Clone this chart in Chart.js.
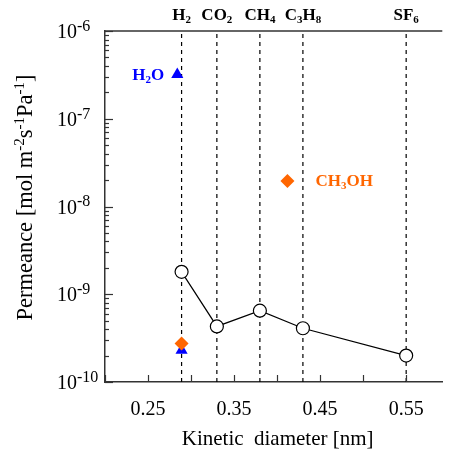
<!DOCTYPE html>
<html><head><meta charset="utf-8">
<script src="https://cdn.jsdelivr.net/npm/chart.js@4.4.0/dist/chart.umd.min.js"></script>
<style>html,body{margin:0;padding:0;background:#fff;} #wrap{width:450px;height:453px;}</style>
</head><body><div id="wrap"><canvas id="c" width="450" height="453"></canvas></div>
<script>
// ---- data ----
const gasLabels = ['H_2', 'CO_2', 'CH_4', 'C_3H_8', 'SF_6'];
const kineticDiameter = [0.289, 0.33, 0.38, 0.43, 0.55];
const permeance = [1.8e-9, 4.3e-10, 6.5e-10, 4.1e-10, 2.0e-10];
const waterX = [0.284, 0.289];
const waterY = [3.2e-7, 2.3e-10];
const methanolX = [0.412, 0.289];
const methanolY = [1.95e-8, 2.75e-10];
const xTickValues = [0.2, 0.25, 0.3, 0.35, 0.4, 0.45, 0.5, 0.55];
const xTickLabels = ['0.25', '0.35', '0.45', '0.55'];
const yTickExponents = [-6, -7, -8, -9, -10];
const xRange = [0.2, 0.592];
const yRange = [1e-10, 1e-6];

const SERIF = '"Liberation Serif","Times New Roman",serif';
const AXIS = '#333';

// rich text: _x subscript, ^{..} superscript
function parseRich(s) {
  const segs = []; let cur = '';
  for (let i = 0; i < s.length; i++) {
    const c = s[i];
    if (c === '_' || c === '^') {
      if (cur) { segs.push({t: cur, k: 'n'}); cur = ''; }
      let t;
      if (s[i + 1] === '{') { const j = s.indexOf('}', i); t = s.slice(i + 2, j); i = j; }
      else { t = s[i + 1]; i++; }
      segs.push({t, k: c === '_' ? 'sub' : 'sup'});
    } else cur += c;
  }
  if (cur) segs.push({t: cur, k: 'n'});
  return segs;
}
function drawRich(ctx, str, x, y, o) {
  const size = o.size, weight = o.bold ? 'bold ' : '';
  const sm = o.small || 0.66;
  const segs = parseRich(str);
  const fontFor = k => weight + (k === 'n' ? size : Math.round(size * sm)) + 'px ' + SERIF;
  let w = 0;
  segs.forEach(sg => { ctx.font = fontFor(sg.k); sg.w = ctx.measureText(sg.t).width; w += sg.w; });
  ctx.save();
  ctx.translate(x, y);
  if (o.rotate) ctx.rotate(o.rotate);
  let sx = o.align === 'right' ? -w : (o.align === 'left' ? 0 : -w / 2);
  ctx.fillStyle = o.color || '#000';
  ctx.textBaseline = 'alphabetic';
  ctx.textAlign = 'left';
  segs.forEach(sg => {
    ctx.font = fontFor(sg.k);
    const dy = sg.k === 'sub' ? size * 0.18 : (sg.k === 'sup' ? -size * 0.36 : 0);
    ctx.fillText(sg.t, sx, dy);
    sx += sg.w;
  });
  ctx.restore();
}

const decor = {
  id: 'decor',
  afterDraw(chart) {
    const ctx = chart.ctx, xs = chart.scales.x, ys = chart.scales.y, a = chart.chartArea;
    ctx.save();
    ctx.strokeStyle = AXIS; ctx.lineWidth = 1.5;
    // top frame line
    ctx.beginPath(); ctx.moveTo(a.left, a.top); ctx.lineTo(a.right, a.top); ctx.stroke();
    ctx.lineWidth = 1.2;
    // x ticks (inward)
    xTickValues.forEach(v => {
      const px = Math.round(xs.getPixelForValue(v)) + 0.5;
      ctx.beginPath(); ctx.moveTo(px, a.bottom); ctx.lineTo(px, a.bottom - 7); ctx.stroke();
    });
    // y ticks (inward), major + minor
    for (let e = -10; e <= -6; e++) {
      const py = Math.round(ys.getPixelForValue(Math.pow(10, e))) + 0.5;
      ctx.beginPath(); ctx.moveTo(a.left, py); ctx.lineTo(a.left + 8, py); ctx.stroke();
      if (e < -6) for (let k = 2; k <= 9; k++) {
        const pm = Math.round(ys.getPixelForValue(k * Math.pow(10, e))) + 0.5;
        ctx.beginPath(); ctx.moveTo(a.left, pm); ctx.lineTo(a.left + 4, pm); ctx.stroke();
      }
    }
    ctx.restore();
    // x tick labels
    xTickLabels.forEach(l => {
      drawRich(ctx, l, xs.getPixelForValue(parseFloat(l)), a.bottom + 33, {size: 20, align: 'center'});
    });
    // y tick labels (left aligned block)
    yTickExponents.forEach(e => {
      drawRich(ctx, '10^{' + e + '}', a.left - 48, ys.getPixelForValue(Math.pow(10, e)) + 7, {size: 20, align: 'left', small: 0.8});
    });
    // axis titles
    drawRich(ctx, 'Kinetic  diameter [nm]', (a.left + a.right) / 2 + 4, a.bottom + 63, {size: 21, align: 'center'});
    drawRich(ctx, 'Permeance [mol m^{-2}s^{-1}Pa^{-1}]', 32, (a.top + a.bottom) / 2 - 9, {size: 22.5, align: 'center', rotate: -Math.PI / 2});
    // gas labels above frame
    gasLabels.forEach((g, i) => {
      drawRich(ctx, g, xs.getPixelForValue(kineticDiameter[i]), a.top - 11, {size: 17, bold: true, align: 'center'});
    });
    // point labels
    drawRich(ctx, 'H_2O', xs.getPixelForValue(waterX[0]) - 13, ys.getPixelForValue(waterY[0]) + 6, {size: 17, bold: true, align: 'right', color: '#0000ff'});
    drawRich(ctx, 'CH_3OH', xs.getPixelForValue(methanolX[0]) + 28, ys.getPixelForValue(methanolY[0]) + 5, {size: 17, bold: true, align: 'left', color: '#ff6600'});
  }
};

const datasets = [
  {
    label: 'permeance',
    data: kineticDiameter.map((x, i) => ({x, y: permeance[i]})),
    showLine: true, borderColor: '#000', borderWidth: 1.2,
    pointRadius: 6.5, pointBackgroundColor: '#fff', pointBorderColor: '#000', pointBorderWidth: 1.2,
    order: 1
  },
  {
    label: 'methanol',
    data: methanolX.map((x, i) => ({x, y: methanolY[i]})),
    pointStyle: 'rectRot', pointRadius: 7, pointBackgroundColor: '#ff6600', pointBorderColor: '#ff6600', pointBorderWidth: 0,
    showLine: false, order: 2
  },
  {
    label: 'water',
    data: waterX.map((x, i) => ({x, y: waterY[i]})),
    pointStyle: 'triangle', pointRadius: 7, pointBackgroundColor: '#0000ff', pointBorderColor: '#0000ff', pointBorderWidth: 0,
    showLine: false, order: 3
  }
];
kineticDiameter.forEach(d => {
  datasets.push({
    label: 'guide',
    data: [{x: d, y: yRange[0]}, {x: d, y: yRange[1]}],
    showLine: true, borderColor: '#000', borderWidth: 1.2, borderDash: [4, 4],
    pointRadius: 0, order: 10
  });
});

new Chart(document.getElementById('c'), {
  type: 'scatter',
  data: {datasets},
  options: {
    responsive: false, animation: false,
    layout: {padding: {left: 105, top: 31, right: 0, bottom: 71}},
    plugins: {legend: {display: false}, tooltip: {enabled: false}},
    scales: {
      x: {type: 'linear', min: xRange[0], max: xRange[1],
          ticks: {display: false}, grid: {display: false, drawTicks: false},
          border: {display: true, color: AXIS, width: 1.5}},
      y: {type: 'logarithmic', min: yRange[0], max: yRange[1],
          ticks: {display: false}, grid: {display: false, drawTicks: false},
          border: {display: true, color: AXIS, width: 1.5}}
    }
  },
  plugins: [decor]
});
</script>
</body></html>
